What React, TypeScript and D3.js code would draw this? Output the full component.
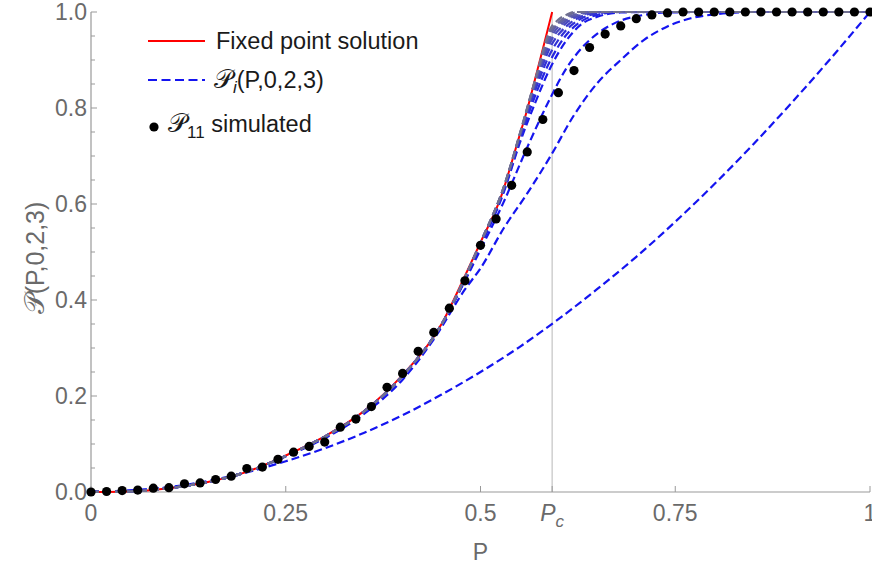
import React from "react";
import * as d3 from "d3";

// values
const pc = 0.592;

const fixedPoint: [number, number][] = [
	[0, 0], [0.05, 0.001], [0.1, 0.008], [0.15, 0.021], [0.2, 0.042], [0.25, 0.076],
	[0.3, 0.116], [0.35, 0.168], [0.4, 0.244], [0.45, 0.35], [0.48, 0.45], [0.5, 0.52],
	[0.525, 0.609], [0.55, 0.742], [0.56, 0.797], [0.57, 0.86], [0.58, 0.923], [0.592, 1],
];

const p1: [number, number][] = [
	[0, 0], [0.1, 0.01], [0.2, 0.041], [0.25, 0.064], [0.3, 0.091], [0.35, 0.123],
	[0.4, 0.16], [0.45, 0.203], [0.5, 0.25], [0.55, 0.302], [0.6, 0.36], [0.65, 0.423],
	[0.7, 0.49], [0.75, 0.563], [0.8, 0.641], [0.85, 0.724], [0.9, 0.812], [0.95, 0.904], [1, 1],
];

const p2: [number, number][] = [
	[0, 0], [0.1, 0.009], [0.2, 0.042], [0.25, 0.074], [0.3, 0.112], [0.35, 0.162],
	[0.4, 0.234], [0.44, 0.318], [0.48, 0.422], [0.5, 0.466], [0.53, 0.55], [0.56, 0.622],
	[0.59, 0.7], [0.62, 0.785], [0.65, 0.852], [0.68, 0.9], [0.71, 0.942], [0.74, 0.97],
	[0.77, 0.987], [0.8, 0.995], [0.85, 1], [1, 1],
];

// shared lower part of the later iterates (they sit on top of each other there)
const lowPart: [number, number][] = [
	[0, 0], [0.05, 0.001], [0.1, 0.008], [0.15, 0.021], [0.2, 0.042], [0.25, 0.075],
	[0.3, 0.115], [0.35, 0.167], [0.4, 0.242], [0.45, 0.349],
];

const p3Top: [number, number][] = [
	[0.48, 0.44], [0.5, 0.505], [0.53, 0.605], [0.56, 0.718], [0.59, 0.822], [0.61, 0.882],
	[0.63, 0.925], [0.65, 0.955], [0.68, 0.982], [0.71, 0.994], [0.74, 0.999], [0.8, 1], [1, 1],
];
const p4Top: [number, number][] = [
	[0.5, 0.512], [0.53, 0.625], [0.55, 0.725], [0.57, 0.81], [0.59, 0.885], [0.61, 0.94],
	[0.63, 0.975], [0.65, 0.99], [0.68, 0.999], [0.72, 1], [1, 1],
];
const p5Top: [number, number][] = [
	[0.5, 0.515], [0.53, 0.628], [0.55, 0.73], [0.57, 0.825], [0.59, 0.9], [0.61, 0.952],
	[0.63, 0.981], [0.65, 0.994], [0.68, 1], [1, 1],
];
const p6Top: [number, number][] = [
	[0.5, 0.517], [0.53, 0.631], [0.55, 0.735], [0.57, 0.836], [0.59, 0.915], [0.61, 0.962],
	[0.63, 0.987], [0.65, 0.997], [0.67, 1], [1, 1],
];
const p7Top: [number, number][] = [
	[0.5, 0.518], [0.53, 0.633], [0.55, 0.738], [0.57, 0.843], [0.59, 0.928], [0.61, 0.97],
	[0.63, 0.991], [0.65, 0.999], [0.66, 1], [1, 1],
];
const p8Top: [number, number][] = [
	[0.5, 0.519], [0.53, 0.634], [0.55, 0.74], [0.57, 0.848], [0.59, 0.938], [0.61, 0.977],
	[0.63, 0.994], [0.65, 1], [1, 1],
];
const p9Top: [number, number][] = [
	[0.5, 0.519], [0.53, 0.635], [0.55, 0.741], [0.57, 0.852], [0.59, 0.946], [0.61, 0.982],
	[0.63, 0.996], [0.645, 1], [1, 1],
];
const p10Top: [number, number][] = [
	[0.5, 0.52], [0.53, 0.635], [0.55, 0.742], [0.57, 0.855], [0.59, 0.953], [0.61, 0.986],
	[0.63, 0.998], [0.64, 1], [1, 1],
];
const p11Top: [number, number][] = [
	[0.5, 0.52], [0.53, 0.636], [0.55, 0.743], [0.57, 0.857], [0.59, 0.96], [0.6, 0.978],
	[0.61, 0.99], [0.625, 1], [1, 1],
];
const p12Top: [number, number][] = [
	[0.5, 0.52], [0.53, 0.636], [0.55, 0.744], [0.57, 0.858], [0.59, 0.966], [0.6, 0.984],
	[0.61, 0.994], [0.62, 1], [1, 1],
];

const iterates: [number, number][][] = [
	p1,
	p2,
	[...lowPart, ...p3Top],
	[...lowPart, ...p4Top],
	[...lowPart, ...p5Top],
	[...lowPart, ...p6Top],
	[...lowPart, ...p7Top],
	[...lowPart, ...p8Top],
	[...lowPart, ...p9Top],
	[...lowPart, ...p10Top],
	[...lowPart, ...p11Top],
	[...lowPart, ...p12Top],
];

const iterateColors = [
	"#1414f0", "#1414f0", "#1616ee", "#1a1aea", "#2626e0", "#3131d6",
	"#3c3ccc", "#4848c0", "#5353b4", "#5e5ea8", "#68689c", "#707090",
];

// simulated P_11, one point every 0.02
const simX = d3.range(0, 51).map((i) => i / 50);
const simY = [
	0, 0.001, 0.003, 0.004, 0.008, 0.009, 0.017, 0.019, 0.026, 0.033,
	0.049, 0.052, 0.068, 0.083, 0.095, 0.104, 0.135, 0.152, 0.178, 0.218,
	0.247, 0.293, 0.3325, 0.383, 0.44, 0.514, 0.569, 0.639, 0.7085, 0.776,
	0.832, 0.878, 0.926, 0.954, 0.971, 0.986, 0.994, 0.998, 1, 1,
	1, 1, 1, 1, 1, 1, 1, 1, 1, 1, 1,
];

const xTicks = [0, 0.25, 0.5, 0.75, 1];
const xTickLabels = ["0", "0.25", "0.5", "0.75", "1"];
const yTicks = [0, 0.2, 0.4, 0.6, 0.8, 1];
const yTickLabels = ["0.0", "0.2", "0.4", "0.6", "0.8", "1.0"];
const yMinor = d3.range(0, 21).map((i) => i / 20);

const SCRIPT_P = "\u{1D4AB}";

export default function App() {
	const width = 872;
	const height = 565;
	const left = 91;
	const right = 870;
	const top = 12;
	const bottom = 492;

	const x = d3.scaleLinear().domain([0, 1]).range([left, right]);
	const y = d3.scaleLinear().domain([0, 1]).range([bottom, top]);

	const line = d3
		.line<[number, number]>()
		.x((d) => x(d[0]))
		.y((d) => y(d[1]))
		.curve(d3.curveMonotoneX);

	const axisColor = "#999999";
	const labelColor = "#6a6a6a";
	const font = "'Liberation Sans', Arial, sans-serif";
	const scriptFont = "'DejaVu Sans', 'DejaVu Serif', 'Liberation Serif', serif";

	return (
		<svg
			width={width}
			height={height}
			style={{ position: "absolute", left: 0, top: 0, background: "#fff" }}
			fontFamily={font}
		>
			{/* Pc guide line */}
			<line x1={x(pc)} x2={x(pc)} y1={y(1)} y2={y(0)} stroke="#cfcfcf" strokeWidth={1.5} />

			{/* axes */}
			<line x1={left} x2={right} y1={bottom} y2={bottom} stroke={axisColor} strokeWidth={1.2} />
			<line x1={left} x2={left} y1={bottom} y2={top} stroke={axisColor} strokeWidth={1.2} />
			{yMinor.map((t) => (
				<line
					key={"ym" + t}
					x1={left}
					x2={left + (Math.round(t * 100) % 20 === 0 ? 6 : 4)}
					y1={y(t)}
					y2={y(t)}
					stroke={axisColor}
				/>
			))}
			{[...xTicks, pc].map((t) => (
				<line key={"xt" + t} x1={x(t)} x2={x(t)} y1={bottom} y2={bottom - 6} stroke={axisColor} />
			))}
			{yTicks.map((t, i) => (
				<text
					key={"yl" + t}
					x={left - 4}
					y={y(t)}
					dy="0.36em"
					textAnchor="end"
					fontSize={23}
					fill={labelColor}
				>
					{yTickLabels[i]}
				</text>
			))}
			{xTicks.map((t, i) => (
				<text key={"xl" + t} x={x(t)} y={bottom + 29} textAnchor="middle" fontSize={23} fill={labelColor}>
					{xTickLabels[i]}
				</text>
			))}
			<text x={x(pc)} y={bottom + 29} textAnchor="middle" fontSize={23} fill={labelColor} fontStyle="italic">
				P<tspan fontSize={17} dy={6}>c</tspan>
			</text>

			{/* axis titles */}
			<text x={x(0.5)} y={560} textAnchor="middle" fontSize={23} fill={labelColor}>
				P
			</text>
			<text transform="translate(44, 258) rotate(-90)" textAnchor="middle" fontSize={25} fill={labelColor}>
				<tspan fontFamily={scriptFont} fontSize={28}>{SCRIPT_P}</tspan>(P,0,2,3)
			</text>

			{/* fixed point solution */}
			<path d={line(fixedPoint) || undefined} fill="none" stroke="#ff0000" strokeWidth={2} />

			{/* iterates P_i */}
			{iterates.map((pts, i) => (
				<path
					key={"it" + i}
					d={line(pts) || undefined}
					fill="none"
					stroke={iterateColors[i]}
					strokeWidth={2.2}
					strokeDasharray="8,4"
				/>
			))}

			{/* simulated points */}
			{simX.map((sx, i) => (
				<circle key={"s" + i} cx={x(sx)} cy={y(simY[i])} r={4.6} fill="#000" />
			))}

			{/* legend */}
			<g fontSize={23.5} fill="#1a1a1a">
				<line x1={148} x2={205} y1={41} y2={41} stroke="#ff0000" strokeWidth={2} />
				<text x={216} y={49}>Fixed point solution</text>
				<line x1={148} x2={205} y1={80} y2={80} stroke="#1414f0" strokeWidth={2.2} strokeDasharray="9,4.5" />
				<text x={214} y={88}>
					<tspan fontFamily={scriptFont} fontSize={26}>{SCRIPT_P}</tspan>
					<tspan fontStyle="italic" fontSize={17} dy={5}>i</tspan>
					<tspan dy={-5}>(P,0,2,3)</tspan>
				</text>
				<circle cx={154} cy={127} r={4.6} fill="#000" />
				<text x={168} y={132}>
					<tspan fontFamily={scriptFont} fontSize={26}>{SCRIPT_P}</tspan>
					<tspan fontSize={17} dy={6}>11</tspan>
					<tspan dy={-6}> simulated</tspan>
				</text>
			</g>
		</svg>
	);
}
